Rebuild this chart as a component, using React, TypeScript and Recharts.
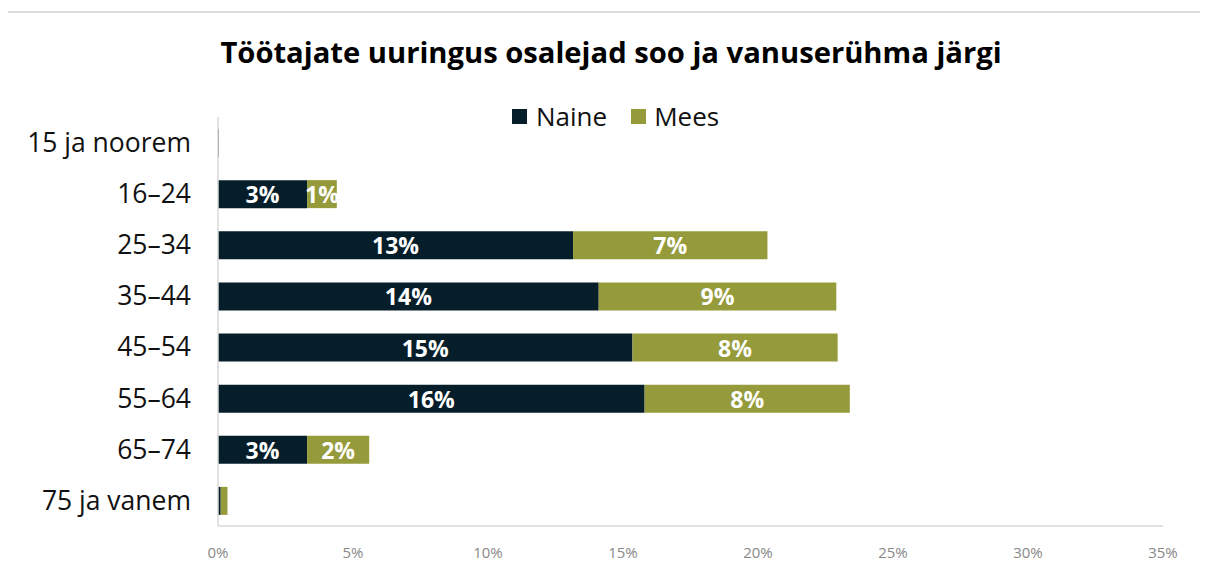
import React from "react";
import { BarChart, Bar, XAxis, YAxis, LabelList } from "recharts";

const categories = ["15 ja noorem", "16–24", "25–34", "35–44", "45–54", "55–64", "65–74", "75 ja vanem"];
const naine = [0.03, 3.3, 13.15, 14.1, 15.35, 15.8, 3.3, 0.1];
const mees = [0.0, 1.1, 7.2, 8.8, 7.6, 7.6, 2.3, 0.25];
const xTicks = [0, 5, 10, 15, 20, 25, 30, 35];

const NAINE_COLOR = "#061e2a";
const MEES_COLOR = "#959a3b";
const FONT = "'Open Sans', sans-serif";

const data = categories.map((c, i) => ({ cat: c, naine: naine[i], mees: mees[i] }));

const renderLabel = (props: any) => {
  const { x, y, width, height, value } = props;
  if (value == null || value < 0.5) return null;
  return (
    <text
      x={x + width / 2}
      y={y + height / 2}
      textAnchor="middle"
      dominantBaseline="central"
      fill="#ffffff"
      fontFamily={FONT}
      fontWeight={700}
      fontSize={23}
    >
      {Math.round(value)}%
    </text>
  );
};

export default function App() {
  return (
    <div style={{ position: "relative", width: 1200, height: 558, fontFamily: FONT, background: "#fff", overflow: "hidden" }}>
      <div style={{ position: "absolute", left: -4, top: 3, width: 1300, height: 700, borderTop: "2px solid #dcdcdc", borderLeft: "2px solid #dcdcdc", boxSizing: "border-box" }} />
      <div style={{ position: "absolute", left: 0, top: 24, width: 1206, textAlign: "center", fontSize: 29.2, fontWeight: 700, color: "#000", lineHeight: "40px" }}>
        Töötajate uuringus osalejad soo ja vanuserühma järgi
      </div>
      <div style={{ position: "absolute", left: 504, top: 91, display: "flex", alignItems: "center", fontSize: 26, color: "#111", lineHeight: "34px" }}>
        <span style={{ display: "inline-block", width: 15, height: 15, background: NAINE_COLOR, marginRight: 9 }} />
        <span>Naine</span>
        <span style={{ display: "inline-block", width: 15, height: 15, background: MEES_COLOR, marginLeft: 24, marginRight: 8 }} />
        <span>Mees</span>
      </div>
      <div style={{ position: "absolute", left: 0, top: 0 }}>
        <BarChart
          width={1200}
          height={558}
          data={data}
          layout="vertical"
          margin={{ top: 109, right: 45, bottom: 10, left: 0 }}
          barSize={28}
        >
          <XAxis
            type="number"
            domain={[0, 35]}
            ticks={xTicks}
            tickFormatter={(v: number) => `${v}%`}
            axisLine={{ stroke: "#d9d9d9", strokeWidth: 1.5 }}
            tickLine={false}
            tick={{ fill: "#888", fontSize: 15, fontFamily: FONT }}
            tickMargin={15}
            height={30}
            interval={0}
          />
          <YAxis
            type="category"
            dataKey="cat"
            width={210}
            axisLine={{ stroke: "#d9d9d9", strokeWidth: 1.5 }}
            tickLine={false}
            tickMargin={21}
            tick={{ fill: "#111", fontSize: 26.5, fontFamily: FONT }}
            interval={0}
          />
          <Bar dataKey="naine" stackId="a" fill={NAINE_COLOR} isAnimationActive={false}>
            <LabelList dataKey="naine" content={renderLabel} />
          </Bar>
          <Bar dataKey="mees" stackId="a" fill={MEES_COLOR} isAnimationActive={false}>
            <LabelList dataKey="mees" content={renderLabel} />
          </Bar>
        </BarChart>
      </div>
    </div>
  );
}
